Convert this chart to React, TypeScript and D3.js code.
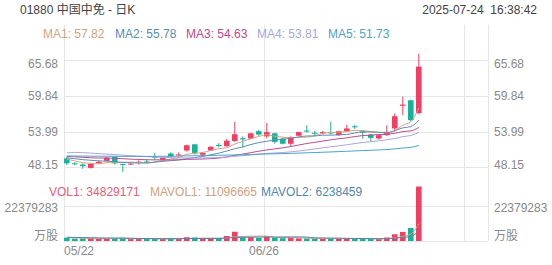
import React from "react";
import * as d3 from "d3";

// ---------- data ----------
const tickIdx = [0, 25, 50];
const tickLabels = ["05/22", "06/26", ""];

const opens = [49.6, 48.8, 48.6, 48.05, 48.85, 49.2, 49.85, 48.7, 48.6, 48.95, 49.1, 49.9, 49.4, 50.4, 50.1,
  50.9, 51.9, 50.2, 50.9, 51.8, 51.6, 52.45, 52.9, 52.85, 54.05, 53.2, 53.7, 52.85, 52.0, 53.3,
  54.15, 53.8, 53.7, 53.85, 53.4, 54.05, 54.85, 54.0, 53.5, 52.85, 53.4, 54.5, 58.2, 59.1, 57.0];
const highs = [49.8, 49.0, 48.8, 48.8, 49.3, 49.8, 50.0, 48.75, 48.9, 49.3, 49.5, 50.5, 49.8, 50.6, 50.6,
  51.85, 52.0, 50.6, 51.6, 52.1, 52.8, 55.6, 53.2, 53.8, 54.3, 55.4, 53.8, 53.0, 53.2, 54.0,
  55.0, 54.1, 54.1, 55.6, 54.1, 55.1, 55.1, 54.2, 53.6, 53.5, 55.0, 56.95, 59.7, 59.2, 66.7];
const lows = [48.5, 48.5, 47.9, 47.95, 48.7, 49.1, 48.6, 47.4, 48.5, 48.6, 48.8, 49.3, 49.2, 49.7, 49.9,
  50.7, 50.2, 49.9, 50.8, 51.4, 51.5, 52.3, 51.4, 52.7, 53.3, 52.9, 52.0, 51.9, 51.6, 53.2,
  53.8, 53.2, 53.5, 53.5, 53.3, 54.0, 54.4, 52.8, 52.3, 52.7, 53.3, 54.05, 56.7, 55.7, 56.8];
const closes = [48.8, 48.65, 48.35, 48.7, 49.05, 49.7, 48.8, 48.6, 48.75, 49.05, 49.05, 49.8, 49.7, 49.9, 50.25,
  51.75, 50.5, 50.5, 51.5, 51.7, 52.5, 53.55, 52.7, 53.7, 53.5, 53.9, 52.3, 52.0, 53.1, 53.9,
  54.0, 53.65, 53.9, 53.75, 54.05, 54.5, 54.7, 53.8, 52.95, 53.4, 53.85, 56.5, 58.4, 55.85, 64.6];
const volumes = [2100000, 1500000, 1600000, 1800000, 1300000, 1600000, 1900000, 2000000, 1200000, 1200000,
  1300000, 1500000, 1300000, 1700000, 1400000, 2400000, 2200000, 1400000, 1700000, 1500000,
  3200000, 5900000, 2300000, 2400000, 2000000, 2900000, 2100000, 1800000, 2000000, 1700000,
  1600000, 1500000, 1400000, 1800000, 1600000, 1500000, 1300000, 1500000, 1400000, 1200000,
  2200000, 4300000, 5800000, 8350000, 34829171];

// moving-average values before a full window exists
const ma1Early = [49.5, 49.2, 48.9, 48.8];
const ma2Early = [49.7, 49.55, 49.4, 49.3, 49.2, 49.15, 49.05, 48.95, 48.9];
const ma3Early = [49.93, 49.86, 49.78, 49.71, 49.66, 49.68, 49.62, 49.55, 49.48, 49.43, 49.38, 49.37, 49.36,
  49.35, 49.36, 49.45, 49.47, 49.5, 49.57];
const ma4Early = [50.5, 50.58, 50.55, 50.47, 50.38, 50.3, 50.22, 50.13, 50.05, 49.97, 49.9, 49.84, 49.78,
  49.72, 49.68, 49.67, 49.66, 49.67, 49.7, 49.76, 49.84, 49.95, 50.05, 50.17, 50.29, 50.41, 50.49, 50.57, 50.68];
const ma5Values = [50.0, 49.99, 49.98, 49.97, 49.96, 49.96, 49.95, 49.94, 49.93, 49.93, 49.93, 49.94, 49.95,
  49.96, 49.98, 50.01, 50.03, 50.05, 50.08, 50.11, 50.14, 50.18, 50.21, 50.25, 50.29, 50.33, 50.36, 50.39,
  50.43, 50.47, 50.52, 50.56, 50.61, 50.66, 50.71, 50.77, 50.83, 50.88, 50.93, 50.99, 51.05, 51.16, 51.3,
  51.4, 51.73];
const mavol1Early = [2200000, 2000000, 1800000, 1700000];
const mavol2Early = [2400000, 2300000, 2200000, 2100000, 2000000, 1950000, 1900000, 1850000, 1800000];

const priceTicks = [48.15, 53.99, 59.84, 65.68];
const volTicks = [0, 22379283];
const volTickLabels = ["万股", "22379283"];

const maNames = ["MA1", "MA2", "MA3", "MA4", "MA5"];
const maLegendValues = ["57.82", "55.78", "54.63", "53.81", "51.73"];
const volNames = ["VOL1", "MAVOL1", "MAVOL2"];
const volLegendValues = ["34829171", "11096665", "6238459"];

const title = "01880 中国中免 - 日K";
const stamp = "2025-07-24\u00a0\u00a016:38:42";

// ---------- styles ----------
const W = 552, H = 265;
const RED = "#f23e62", GREEN = "#17b29c";
const maColors = ["#d9a27c", "#5b8cb5", "#c4488f", "#a9a6e3", "#4aa4c9"];
const volColors = ["#ec5a75", "#d4a07c", "#4f87b0"];
const FONT = "'Liberation Sans', Arial, 'Noto Sans CJK SC', sans-serif";
const AXIS = "#8a8a8a";
const GRID = "#e6e6e6";

function rolling(vals: number[], n: number, early: number[]) {
  return vals.map((_, i) => (i >= n - 1 ? (d3.mean(vals.slice(i - n + 1, i + 1)) as number) : early[i]));
}

export default function App() {
  const x = d3.scaleLinear().domain([0, 53]).range([64, 488]);
  const slot = x(1) - x(0);
  const bw = slot * 0.7;
  const cx = (i: number) => x(i) + bw / 2;
  const y = d3.scaleLinear().domain([48.15, 65.68]).range([167.3, 60]);
  const yv = d3.scaleLinear().domain([0, 22379283]).range([241, 206]);

  const mas = [
    rolling(closes, 5, ma1Early),
    rolling(closes, 10, ma2Early),
    rolling(closes, 20, ma3Early),
    rolling(closes, 30, ma4Early),
    ma5Values,
  ];
  const mavols = [rolling(volumes, 5, mavol1Early), rolling(volumes, 10, mavol2Early)];

  const line = d3.line<number>().x((_, i) => cx(i)).y((d) => y(d)).curve(d3.curveMonotoneX);
  const vline = d3.line<number>().x((_, i) => cx(i)).y((d) => yv(d)).curve(d3.curveMonotoneX);

  const clamp = (v: number, lo: number, hi: number) => Math.max(lo, Math.min(hi, v));

  // legend x positions computed by accumulating text widths
  const maLegendX = [43, 115, 186, 257, 328];
  const volLegendX = [49, 150, 261];

  return (
    <svg width={W} height={H} style={{ position: "absolute", left: 0, top: 0, background: "#fff" }}
      fontFamily={FONT} fontSize={12}>
      {/* vertical grid */}
      {[0, 25, 50, 53].map((t) => (
        <line key={"v" + t} x1={x(t) + 0.5} x2={x(t) + 0.5} y1={25} y2={241} stroke={GRID} />
      ))}
      {/* price grid */}
      {priceTicks.map((t) => (
        <line key={"p" + t} x1={64} x2={488} y1={Math.round(y(t)) + 0.5} y2={Math.round(y(t)) + 0.5} stroke={GRID} />
      ))}
      {/* volume grid */}
      {volTicks.map((t) => (
        <line key={"vg" + t} x1={64} x2={488} y1={Math.round(yv(t)) + 0.5} y2={Math.round(yv(t)) + 0.5} stroke={GRID} />
      ))}

      {/* price labels */}
      {priceTicks.map((t) => {
        const ty = clamp(y(t), 64, 165);
        const s = t.toFixed(2);
        return (
          <g key={"pl" + t} fill={AXIS}>
            <text x={58} y={ty} textAnchor="end" dominantBaseline="central">{s}</text>
            <text x={494} y={ty} dominantBaseline="central">{s}</text>
          </g>
        );
      })}
      {volTicks.map((t, k) => {
        const ty = clamp(yv(t), 207.5, 236);
        return (
          <g key={"vl" + t} fill={AXIS}>
            <text x={58} y={ty} textAnchor="end" dominantBaseline="central">{volTickLabels[k]}</text>
            <text x={494} y={ty} dominantBaseline="central">{volTickLabels[k]}</text>
          </g>
        );
      })}

      {/* date labels */}
      {tickIdx.map((t, k) =>
        tickLabels[k] ? (
          <text key={"d" + t} x={x(t)} y={251} fill={AXIS} textAnchor={k === 0 ? "start" : "middle"}
            dominantBaseline="central">{tickLabels[k]}</text>
        ) : null
      )}

      {/* candles */}
      {closes.map((c, i) => {
        const o = opens[i];
        const col = c >= o ? RED : GREEN;
        const top = y(Math.max(o, c));
        const h = Math.max(1, y(Math.min(o, c)) - top);
        return (
          <g key={"c" + i}>
            <line x1={cx(i)} x2={cx(i)} y1={y(highs[i])} y2={y(lows[i])} stroke={col} strokeWidth={1} />
            <rect x={x(i)} y={top} width={bw} height={h} fill={col} />
          </g>
        );
      })}

      {/* MA lines */}
      {mas.map((m, k) => (
        <path key={"ma" + k} d={line(m) || ""} fill="none" stroke={maColors[k]} strokeWidth={1} />
      ))}

      {/* volume bars */}
      {volumes.map((v, i) => (
        <rect key={"vb" + i} x={x(i)} y={yv(v)} width={bw} height={Math.max(1, yv(0) - yv(v))}
          fill={closes[i] >= opens[i] ? RED : GREEN} />
      ))}
      {mavols.map((m, k) => (
        <path key={"mv" + k} d={vline(m) || ""} fill="none" stroke={volColors[k + 1]} strokeWidth={1} />
      ))}

      {/* titles */}
      <text x={20} y={9.5} fill="#444" dominantBaseline="central">{title}</text>
      <text x={537} y={9.5} fill="#444" textAnchor="end" dominantBaseline="central">{stamp}</text>

      {maNames.map((n, k) => (
        <text key={"lg" + k} x={maLegendX[k]} y={34} fill={maColors[k]} dominantBaseline="central">
          {n}: {maLegendValues[k]}
        </text>
      ))}
      {volNames.map((n, k) => (
        <text key={"vlg" + k} x={volLegendX[k]} y={191.5} fill={volColors[k]} dominantBaseline="central">
          {n}: {volLegendValues[k]}
        </text>
      ))}
    </svg>
  );
}
